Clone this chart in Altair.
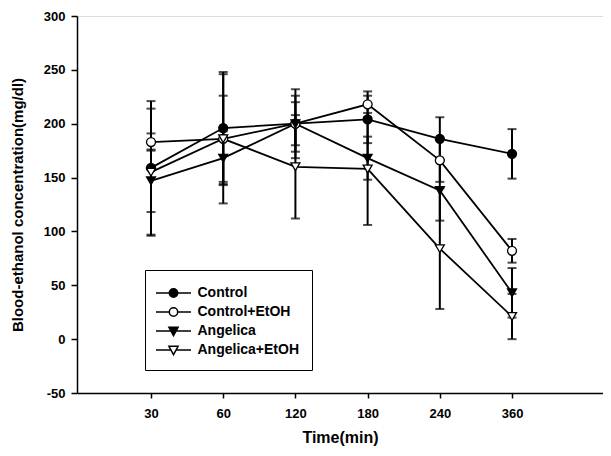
import altair as alt
import pandas as pd

times = ["30", "60", "120", "180", "240", "360"]
series = ["Control", "Control+EtOH", "Angelica", "Angelica+EtOH"]

control = [159, 196, 200, 204, 186, 172]
control_err = [62, 52, 32, 22, 20, 23]
control_etoh = [183, 186, 200, 218, 166, 82]
control_etoh_err = [8, 40, 26, 12, 20, 11]
angelica = [147, 168, 200, 168, 138, 43]
angelica_err = [29, 25, 20, 20, 28, 23]
angelica_etoh = [155, 186, 160, 158, 84, 21]
angelica_etoh_err = [59, 60, 48, 52, 56, 21]

values = [control, control_etoh, angelica, angelica_etoh]
errors = [control_err, control_etoh_err, angelica_err, angelica_etoh_err]

rows = []
for s, vals, errs in zip(series, values, errors):
    for i, (t, v, e) in enumerate(zip(times, vals, errs)):
        rows.append(dict(series=s, time=t, pos=i + 1, value=v, lo=v - e, hi=v + e))
df = pd.DataFrame(rows)

FONT = "Liberation Sans"
label_expr = "[" + ",".join("'%s'" % t for t in times) + "][datum.value - 1]"

x = alt.X(
    "pos:Q",
    scale=alt.Scale(domain=[-0.025, 7.26], nice=False, zero=False),
    axis=alt.Axis(
        values=list(range(1, len(times) + 1)),
        labelExpr=label_expr,
        title="Time(min)",
        grid=False,
        domainColor="black",
        domainWidth=1.5,
        tickColor="black",
        tickWidth=1.5,
        tickSize=5,
        labelFont=FONT,
        labelFontWeight="bold",
        labelFontSize=13,
        labelColor="black",
        labelPadding=9,
        titleFont=FONT,
        titleFontWeight="bold",
        titleFontSize=16,
        titleColor="black",
        titlePadding=9,
    ),
)
y = alt.Y(
    "value:Q",
    scale=alt.Scale(domain=[-50, 300], nice=False, zero=False),
    axis=alt.Axis(
        values=[-50, 0, 50, 100, 150, 200, 250, 300],
        labelExpr="datum.value < 0 ? '-' + abs(datum.value) : '' + datum.value",
        title="Blood-ethanol concentration(mg/dl)",
        grid=False,
        domainColor="black",
        domainWidth=1.5,
        tickColor="black",
        tickWidth=1.5,
        tickSize=6,
        labelFont=FONT,
        labelFontWeight="bold",
        labelFontSize=13,
        labelColor="black",
        labelPadding=6,
        titleFont=FONT,
        titleFontWeight="bold",
        titleFontSize=15,
        titleColor="black",
        titlePadding=18,
    ),
)

base = alt.Chart(df)

lines = base.mark_line(color="black", strokeWidth=1.8).encode(
    x=x, y=y, detail="series:N"
)

rules = base.mark_rule(color="black", strokeWidth=2).encode(
    x=x, y="lo:Q", y2="hi:Q"
)
cap_lo = base.mark_tick(color="black", orient="horizontal", size=9, thickness=2).encode(
    x=x, y="lo:Q"
)
cap_hi = base.mark_tick(color="black", orient="horizontal", size=9, thickness=2).encode(
    x=x, y="hi:Q"
)

fills = ["black", "white", "black", "white"]
strokes = ["black", "black", "black", "black"]
shapes = ["circle", "circle", "triangle-down", "triangle-down"]

points = base.mark_point(stroke="black", strokeWidth=1.3, opacity=1, size=80).encode(
    x=x,
    y=y,
    shape=alt.Shape("series:N", scale=alt.Scale(domain=series, range=shapes), legend=None),
    fill=alt.Fill("series:N", scale=alt.Scale(domain=series, range=fills), legend=None),
)

circ = "M-1.75,0H-0.42M0.42,0H1.75M-0.42,0A0.42,0.42 0 1,0 0.42,0A0.42,0.42 0 1,0 -0.42,0Z"
tri = "M-1.75,0H-0.26M0.26,0H1.75M-0.46,-0.37L0.46,-0.37L0,0.46Z"
legend_paths = [circ, circ, tri, tri]

legend_layer = base.mark_point(strokeWidth=1.5, opacity=1).encode(
    x=alt.value(-600),
    y=alt.value(-600),
    shape=alt.Shape(
        "series:N",
        scale=alt.Scale(domain=series, range=legend_paths),
        legend=alt.Legend(
            title=None,
            orient="none",
            legendX=68,
            legendY=254,
            strokeColor="black",
            fillColor="white",
            padding=12,
            rowPadding=0,
            symbolSize=400,
            symbolOffset=5.5,
            symbolStrokeWidth=1.5,
            labelFont=FONT,
            labelFontWeight="bold",
            labelFontSize=14,
            labelColor="black",
            labelOffset=13,
        ),
    ),
    fill=alt.Fill("series:N", scale=alt.Scale(domain=series, range=fills)),
    stroke=alt.Stroke("series:N", scale=alt.Scale(domain=series, range=strokes)),
)

chart = (
    alt.layer(lines, rules, cap_lo, cap_hi, points, legend_layer)
    .resolve_scale(shape="independent", fill="independent", stroke="independent")
    .properties(width=526, height=377, padding={"left": 69, "top": 8, "right": 0, "bottom": 55})
    .configure_view(stroke=None)
    .configure(autosize=alt.AutoSizeParams(type="none"))
)

chart.save("out.html", embed_options={"renderer": "svg", "actions": False})
